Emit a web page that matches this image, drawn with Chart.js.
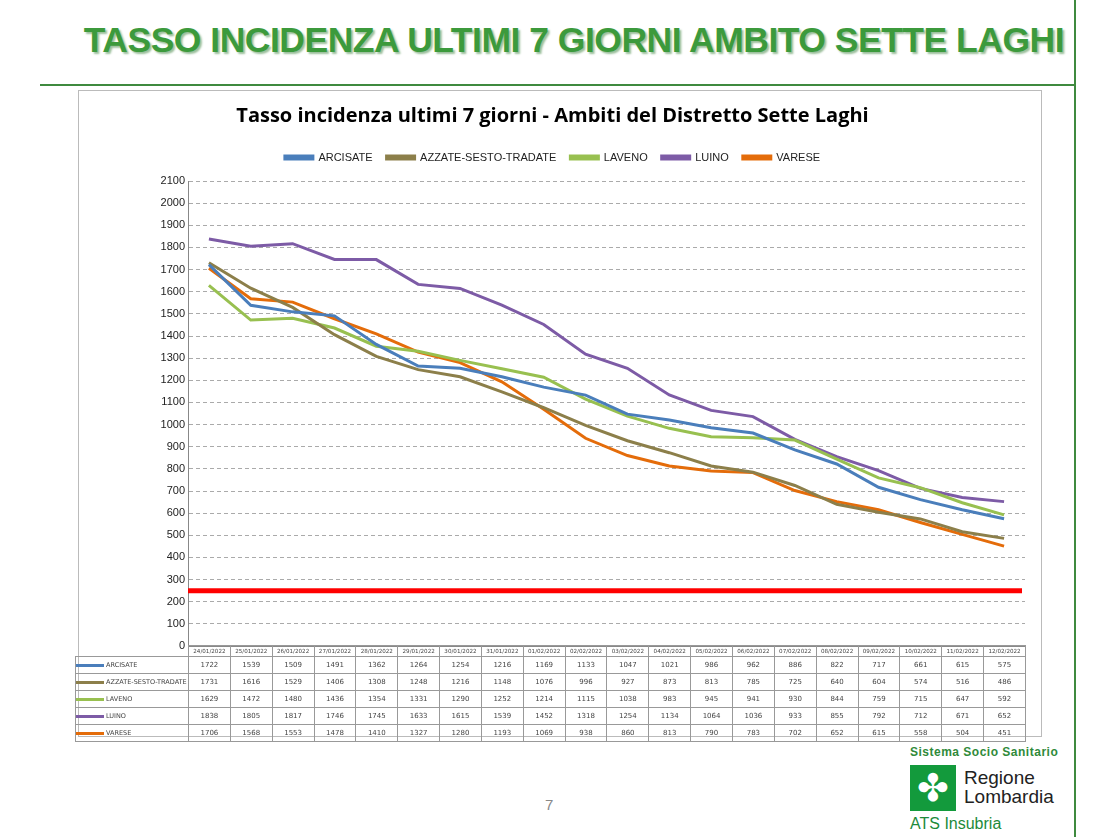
<!DOCTYPE html>
<html lang="it">
<head>
<meta charset="UTF-8">
<title>Tasso incidenza ultimi 7 giorni</title>
<script src="https://cdn.jsdelivr.net/npm/chart.js"></script>
<style>
    body { margin: 0; width: 1103px; height: 837px; background: #fff; position: relative; font-family: "Liberation Sans", Arial, sans-serif; overflow: hidden; }
    #titolo { position: absolute; left: 0; width: 1064px; top: 20px; text-align: right; font-size: 35.5px; font-weight: bold; color: #3c9a3c; text-shadow: 2px 2px 2px #9bbf9b; letter-spacing: -0.5px; }
    #hline { position: absolute; left: 40px; top: 84px; width: 1036px; height: 2px; background: #3f8a3f; }
    #vline { position: absolute; left: 1074px; top: 0; width: 2px; height: 837px; background: #3f8a3f; }
    #box { position: absolute; left: 78px; top: 90px; width: 962px; height: 645px; border: 1px solid #bbb; }
    #chart { position: absolute; left: 80px; top: 92px; }
    table { position: absolute; left: 75px; top: 645px; width: 951px; table-layout: fixed; border-collapse: collapse; font-family: "DejaVu Sans", sans-serif; font-size: 7px; color: #444; }
    td { border: 1px solid #999; height: 16px; text-align: center; padding: 0; overflow: hidden; white-space: nowrap; }
    tr.hd td { height: 10px; font-size: 5.6px; }
    td.lab { text-align: left; font-size: 6.5px; }
    td.lab span { display: inline-block; width: 28px; height: 3px; vertical-align: middle; margin-right: 2px; }
    #pag { position: absolute; left: 545px; top: 796px; font-size: 15px; color: #888; }
    #sss { position: absolute; left: 910px; top: 745px; font-size: 12px; color: #2f8a3a; font-weight: bold; letter-spacing: 0.5px; }
    #logo { position: absolute; left: 910px; top: 765px; width: 46px; height: 46px; background: #139a3c; color: #fff; font-size: 38px; text-align: center; line-height: 46px; }
    #rl { position: absolute; left: 964px; top: 768px; font-size: 19px; color: #222; line-height: 19px; }
    #ats { position: absolute; left: 910px; top: 815px; font-size: 16px; color: #1d8a3a; }
</style>
</head>
<body>
<div id="titolo">TASSO INCIDENZA ULTIMI 7 GIORNI AMBITO SETTE LAGHI</div>
<div id="hline"></div>
<div id="vline"></div>
<div id="box"></div>
<canvas id="chart" width="958" height="567"></canvas>
<table id="tab"></table>
<div id="pag">7</div>
<div id="sss">Sistema Socio Sanitario</div>
<div id="logo">✤</div>
<div id="rl">Regione<br>Lombardia</div>
<div id="ats">ATS Insubria</div>
<script>
const dates = ['24/01/2022','25/01/2022','26/01/2022','27/01/2022','28/01/2022','29/01/2022','30/01/2022','31/01/2022','01/02/2022','02/02/2022','03/02/2022','04/02/2022','05/02/2022','06/02/2022','07/02/2022','08/02/2022','09/02/2022','10/02/2022','11/02/2022','12/02/2022'];
const arcisate = [1722,1539,1509,1491,1362,1264,1254,1216,1169,1133,1047,1021,986,962,886,822,717,661,615,575];
const azzate = [1731,1616,1529,1406,1308,1248,1216,1148,1076,996,927,873,813,785,725,640,604,574,516,486];
const laveno = [1629,1472,1480,1436,1354,1331,1290,1252,1214,1115,1038,983,945,941,930,844,759,715,647,592];
const luino = [1838,1805,1817,1746,1745,1633,1615,1539,1452,1318,1254,1134,1064,1036,933,855,792,712,671,652];
const varese = [1706,1568,1553,1478,1410,1327,1280,1193,1069,938,860,813,790,783,702,652,615,558,504,451];
const soglia = 250;

const series = [
    { label: 'ARCISATE', data: arcisate, color: '#4a7ebb' },
    { label: 'AZZATE-SESTO-TRADATE', data: azzate, color: '#8c7f4a' },
    { label: 'LAVENO', data: laveno, color: '#98c050' },
    { label: 'LUINO', data: luino, color: '#7d5ba6' },
    { label: 'VARESE', data: varese, color: '#e46c0a' }
];

const sogliaPlugin = {
    id: 'soglia',
    afterDatasetsDraw(chart) {
        const { ctx, chartArea, scales } = chart;
        const y = scales.y.getPixelForValue(soglia);
        ctx.save();
        ctx.strokeStyle = '#ff0000';
        ctx.lineWidth = 5;
        ctx.beginPath();
        ctx.moveTo(chartArea.left, y);
        ctx.lineTo(chartArea.right - 3, y);
        ctx.stroke();
        ctx.restore();
    }
};

new Chart(document.getElementById('chart'), {
    type: 'line',
    data: {
        labels: dates,
        datasets: series.map(s => ({
            label: s.label, data: s.data, borderColor: s.color, backgroundColor: s.color,
            borderWidth: 3, pointRadius: 0, tension: 0
        }))
    },
    options: {
        responsive: false,
        animation: false,
        layout: { padding: { left: 0, right: 13, bottom: 5, top: 10 } },
        plugins: {
            title: { display: true, text: 'Tasso incidenza ultimi 7 giorni - Ambiti del Distretto Sette Laghi',
                color: '#000', font: { family: 'Open Sans', size: 20, weight: 'bold' }, padding: { top: 2, bottom: 10 } },
            legend: { labels: { boxWidth: 28, boxHeight: 3, color: '#222', font: { family: 'Liberation Sans', size: 11 }, padding: 14 } },
            tooltip: { enabled: false }
        },
        scales: {
            x: { offset: true, grid: { display: false }, ticks: { display: false }, border: { color: '#888' } },
            y: {
                min: 0, max: 2100,
                ticks: { stepSize: 100, color: '#222', font: { family: 'Liberation Sans', size: 11 }, callback: v => String(v) },
                grid: { color: '#aaa', drawTicks: false },
                border: { dash: [4, 3], display: true, color: '#888' },
                afterFit(scale) { scale.width = 108; }
            }
        }
    },
    plugins: [sogliaPlugin, {
        id: 'legendGap',
        beforeInit(chart) {
            const orig = chart.legend.fit;
            chart.legend.fit = function () { orig.bind(this)(); this.height += 8; };
        }
    }]
});

// data table under the plot
const tab = document.getElementById('tab');
let html = '<colgroup><col style="width:113px">' + dates.map(() => '<col>').join('') + '</colgroup>';
html += '<tr class="hd"><td class="lab" style="border:none"></td>' + dates.map(d => '<td>' + d + '</td>').join('') + '</tr>';
series.forEach(s => {
    html += '<tr><td class="lab"><span style="background:' + s.color + '"></span>' + s.label + '</td>' +
        s.data.map(v => '<td>' + v + '</td>').join('') + '</tr>';
});
tab.innerHTML = html;
</script>
</body>
</html>
